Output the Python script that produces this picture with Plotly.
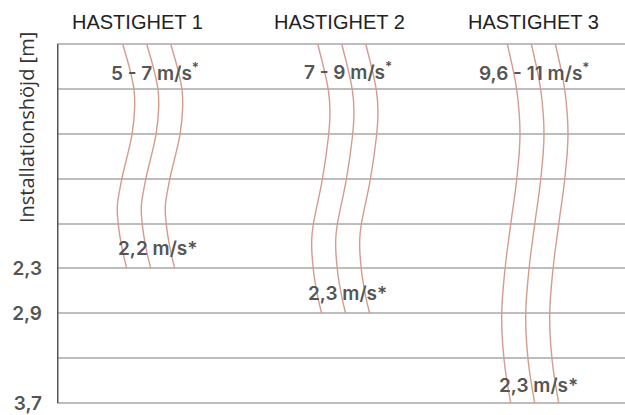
import plotly.graph_objects as go

# Heading per column
headings = ["HASTIGHET 1", "HASTIGHET 2", "HASTIGHET 3"]
heading_x = [137, 339, 533]

# Y axis (installation height) – ordinal grid rows, top = 0
tick_vals = [0, 1, 2, 3, 4, 5, 6, 7, 8]
tick_text = ["", "", "", "", "", "2,3", "2,9", "", "3,7"]

# Air-flow curve centre lines (row position, x position)
g1_rows = [0, 0.58, 1.02, 1.4, 2.02, 3.02, 3.62, 4.02, 4.51, 5.0]
g1_x = [122.7, 130, 134, 134.7, 132, 121.7, 117.3, 118.3, 121.7, 126.7]
g2_rows = [0, 1.02, 1.53, 2.0, 3.02, 4.02, 4.36, 5.02, 5.69, 6.0]
g2_x = [317.7, 328.3, 330, 328.7, 322.3, 313.3, 311.7, 313.3, 318.3, 321.7]
g3_rows = [0, 1.02, 2.02, 3.02, 4.02, 5.02, 6.02, 7.02, 8.0]
g3_x = [507.3, 516.7, 520, 516.7, 510.7, 505, 501.7, 504, 510.7]
line_offsets = [0, 24, 48]

# Speed labels
top_labels = ["5 - 7 m/s<sup>*</sup>", "7 - 9 m/s<sup>*</sup>", "9,6 - 11 m/s<sup>*</sup>"]
top_label_x = [155, 348, 534]
top_label_row = [0.62, 0.6, 0.62]
bottom_labels = ["2,2 m/s*", "2,3 m/s*", "2,3 m/s*"]
bottom_label_x = [158, 347, 538]
bottom_label_row = [4.55, 5.55, 7.6]

y_title = "Installationshöjd [m]"

W, H = 625, 415
ML, MR, MT, MB = 57, 0, 41, 7
PAD = 3 / 45  # three pixels of padding so edge grid lines show

def px_to_paper_x(px):
    return (px - ML) / (W - ML - MR)

def px_to_paper_y(py):
    return 1 - (py - MT) / (H - MT - MB)

fig = go.Figure()
curve_color = "#d59c8e"
for rows, xs in [(g1_rows, g1_x), (g2_rows, g2_x), (g3_rows, g3_x)]:
    for off in line_offsets:
        fig.add_trace(go.Scatter(
            x=[v + off for v in xs], y=rows, mode="lines",
            line=dict(color=curve_color, width=1.4, shape="spline", smoothing=1.0),
            showlegend=False, hoverinfo="skip"))

value_font = dict(family="Inter", size=19, color="#555555", weight=600)
for t, x, r in zip(top_labels, top_label_x, top_label_row):
    fig.add_annotation(x=x, y=r, xref="x", yref="y", text=t, showarrow=False,
                       font=value_font, xanchor="center", yanchor="middle")
for t, x, r in zip(bottom_labels, bottom_label_x, bottom_label_row):
    fig.add_annotation(x=x, y=r, xref="x", yref="y", text=t, showarrow=False,
                       font=value_font, xanchor="center", yanchor="middle")
for t, x in zip(headings, heading_x):
    fig.add_annotation(x=px_to_paper_x(x), y=px_to_paper_y(22), xref="paper", yref="paper",
                       text=t, showarrow=False,
                       font=dict(family="Liberation Sans", size=20, color="#222222"),
                       xanchor="center", yanchor="middle")

fig.add_annotation(x=px_to_paper_x(26.5), y=px_to_paper_y(128), xref="paper", yref="paper",
                   text=y_title, showarrow=False, textangle=-90,
                   font=dict(family="Open Sans", size=20, color="#333333"),
                   xanchor="center", yanchor="middle")

fig.update_layout(
    width=W, height=H,
    margin=dict(l=ML, r=MR, t=MT, b=MB),
    paper_bgcolor="white", plot_bgcolor="white",
    xaxis=dict(range=[57, 625], visible=False, fixedrange=True),
    yaxis=dict(range=[8 + PAD, -PAD], tickvals=tick_vals, ticktext=tick_text,
               showgrid=True, gridcolor="#bdbdbd", gridwidth=1.5,
               zeroline=False, showline=False,
               ticks="", ticklabelstandoff=14, fixedrange=True,
               ticklabeloverflow="allow",
               tickfont=dict(family="Inter", size=19, color="#555555", weight=600)),
    shapes=[dict(type="line", xref="x", yref="y", x0=57, x1=57, y0=0, y1=8,
                 line=dict(color="#555555", width=3), layer="above")],
)

fig.write_html("out.html", config={"displayModeBar": False},
               post_script="document.body.style.margin='0';")
